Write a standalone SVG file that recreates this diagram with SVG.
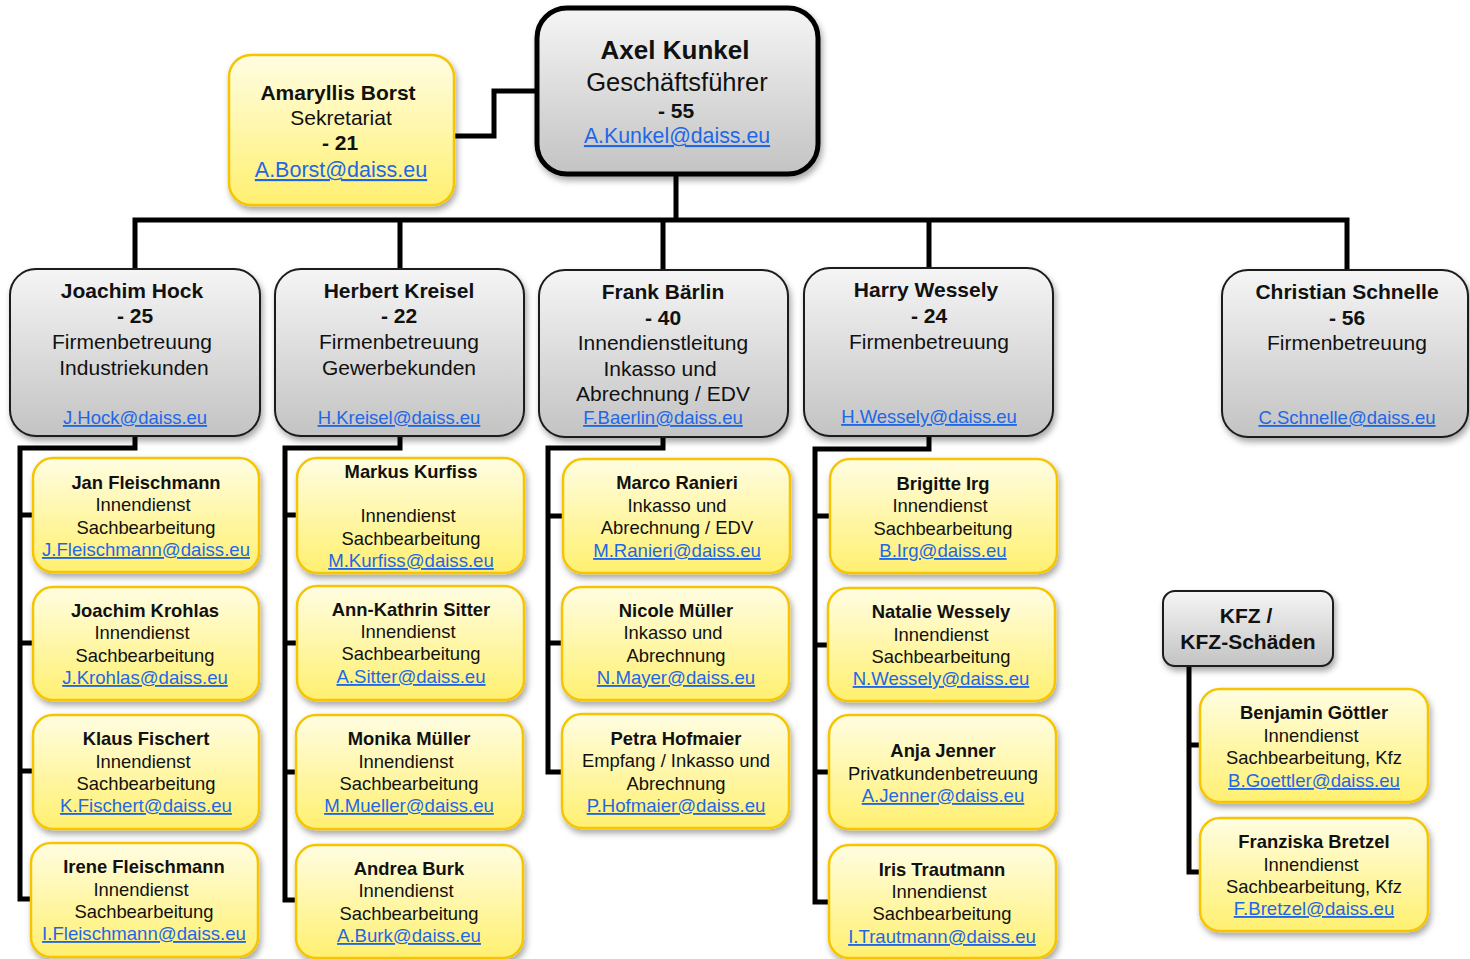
<svg xmlns="http://www.w3.org/2000/svg" width="1470" height="959" viewBox="0 0 1470 959">
<defs>
<linearGradient id="gGray" x1="0" y1="0" x2="0" y2="1">
<stop offset="0" stop-color="#f5f5f5"/>
<stop offset="1" stop-color="#c3c3c3"/>
</linearGradient>
<linearGradient id="gYel" x1="0" y1="0" x2="0" y2="1">
<stop offset="0" stop-color="#fffde2"/>
<stop offset="1" stop-color="#fff070"/>
</linearGradient>
<filter id="sh" x="-10%" y="-10%" width="125%" height="130%">
<feDropShadow dx="2" dy="4" stdDeviation="3" flood-color="#000" flood-opacity="0.35"/>
</filter>
</defs>
<style>
.gray{fill:url(#gGray);stroke:#1a1a1a;stroke-width:2;filter:url(#sh)}
.top{fill:url(#gGray);stroke:#000;stroke-width:5;filter:url(#sh)}
.yel{fill:url(#gYel);stroke:#f6c400;stroke-width:2.5;filter:url(#sh)}
text{font-family:"Liberation Sans",Arial,sans-serif;fill:#111;text-anchor:middle}
.b{font-weight:bold}
.l{fill:#1f67e6;text-decoration:underline}
.g text{font-size:21px}
.g text.l{font-size:18.5px}
.y text{font-size:18.4px}
.y text.l{font-size:18.6px}
.conn{fill:none;stroke:#000;stroke-width:5;stroke-linejoin:miter}
</style>
<rect width="1470" height="959" fill="#fff"/>

<g id="connectors">
<path class="conn" d="M454,136 H494 V91 H537"/>
<path class="conn" d="M676,174 V220 M135,270 V220 H1347 V270 M400,220 V270 M663,220 V270 M929,220 V270"/>
<path class="conn" d="M135,436 V448 H20 V899 H33 M20,515 H33 M20,643 H33 M20,771 H33"/>
<path class="conn" d="M400,436 V448 H285 V900 H297 M285,515 H297 M285,643 H297 M285,772 H297"/>
<path class="conn" d="M663,437 V448 H548 V772 H563 M548,516 H563 M548,643 H563"/>
<path class="conn" d="M929,436 V449 H815 V902 H829 M815,516 H829 M815,645 H829 M815,772 H829"/>
<path class="conn" d="M1189,666 V872 H1200 M1189,745 H1200"/>
</g>

<g id="n-axel">
<rect class="top" x="537" y="8" width="281" height="166" rx="30"/>
<text x="675" y="59" class="b" font-size="26">Axel Kunkel</text>
<text x="677" y="91" font-size="25.5">Geschäftsführer</text>
<text x="676" y="118" class="b" font-size="21">- 55</text>
<text x="677" y="143" class="l" font-size="21.3">A.Kunkel@daiss.eu</text>
</g>

<g id="n-amaryllis">
<rect class="yel" x="229" y="55" width="225" height="150" rx="22"/>
<text x="338" y="100" class="b" font-size="21">Amaryllis Borst</text>
<text x="341" y="125" font-size="21">Sekretariat</text>
<text x="340" y="150" class="b" font-size="21">- 21</text>
<text x="341" y="177" class="l" font-size="21.5">A.Borst@daiss.eu</text>
</g>

<g id="n-hock" class="g">
<rect class="gray" x="10" y="269" width="250" height="167" rx="26"/>
<text x="132" y="298" class="b">Joachim Hock</text>
<text x="135" y="323" class="b">- 25</text>
<text x="132" y="349">Firmenbetreuung</text>
<text x="134" y="375">Industriekunden</text>
<text x="135" y="424" class="l">J.Hock@daiss.eu</text>
</g>

<g id="n-kreisel" class="g">
<rect class="gray" x="275" y="269" width="249" height="167" rx="26"/>
<text x="399" y="298" class="b">Herbert Kreisel</text>
<text x="399" y="323" class="b">- 22</text>
<text x="399" y="349">Firmenbetreuung</text>
<text x="399" y="375">Gewerbekunden</text>
<text x="399" y="424" class="l">H.Kreisel@daiss.eu</text>
</g>

<g id="n-baerlin" class="g">
<rect class="gray" x="539" y="270" width="249" height="167" rx="26"/>
<text x="663" y="299" class="b">Frank Bärlin</text>
<text x="663" y="325" class="b">- 40</text>
<text x="663" y="350">Innendienstleitung</text>
<text x="660" y="376">Inkasso und</text>
<text x="663" y="401">Abrechnung / EDV</text>
<text x="663" y="424" class="l">F.Baerlin@daiss.eu</text>
</g>

<g id="n-wessely" class="g">
<rect class="gray" x="804" y="268" width="249" height="168" rx="26"/>
<text x="926" y="297" class="b">Harry Wessely</text>
<text x="929" y="323" class="b">- 24</text>
<text x="929" y="349">Firmenbetreuung</text>
<text x="929" y="423" class="l">H.Wessely@daiss.eu</text>
</g>

<g id="n-schnelle" class="g">
<rect class="gray" x="1222" y="270" width="246" height="167" rx="26"/>
<text x="1347" y="299" class="b">Christian Schnelle</text>
<text x="1347" y="325" class="b">- 56</text>
<text x="1347" y="350">Firmenbetreuung</text>
<text x="1347" y="424" class="l">C.Schnelle@daiss.eu</text>
</g>

<g id="n-kfz" class="g">
<rect class="gray" x="1163" y="591" width="170" height="75" rx="12"/>
<text x="1246" y="623" class="b">KFZ /</text>
<text x="1248" y="649" class="b">KFZ-Schäden</text>
</g>

<!-- column 1 -->
<g id="n-jfleischmann" class="y">
<rect class="yel" x="33" y="458" width="226" height="114" rx="20"/>
<text x="146" y="489" class="b">Jan Fleischmann</text>
<text x="143" y="511">Innendienst</text>
<text x="146" y="534">Sachbearbeitung</text>
<text x="146" y="556" class="l">J.Fleischmann@daiss.eu</text>
</g>
<g id="n-krohlas" class="y">
<rect class="yel" x="33" y="587" width="226" height="113" rx="20"/>
<text x="145" y="617" class="b">Joachim Krohlas</text>
<text x="142" y="639">Innendienst</text>
<text x="145" y="662">Sachbearbeitung</text>
<text x="145" y="684" class="l">J.Krohlas@daiss.eu</text>
</g>
<g id="n-fischert" class="y">
<rect class="yel" x="33" y="715" width="226" height="114" rx="20"/>
<text x="146" y="745" class="b">Klaus Fischert</text>
<text x="143" y="768">Innendienst</text>
<text x="146" y="790">Sachbearbeitung</text>
<text x="146" y="812" class="l">K.Fischert@daiss.eu</text>
</g>
<g id="n-ifleischmann" class="y">
<rect class="yel" x="31" y="843" width="227" height="114" rx="20"/>
<text x="144" y="873" class="b">Irene Fleischmann</text>
<text x="141" y="896">Innendienst</text>
<text x="144" y="918">Sachbearbeitung</text>
<text x="144" y="940" class="l">I.Fleischmann@daiss.eu</text>
</g>

<!-- column 2 -->
<g id="n-kurfiss" class="y">
<rect class="yel" x="297" y="458" width="227" height="115" rx="20"/>
<text x="411" y="478" class="b">Markus Kurfiss</text>
<text x="408" y="522">Innendienst</text>
<text x="411" y="545">Sachbearbeitung</text>
<text x="411" y="567" class="l">M.Kurfiss@daiss.eu</text>
</g>
<g id="n-sitter" class="y">
<rect class="yel" x="297" y="586" width="227" height="114" rx="20"/>
<text x="411" y="616" class="b">Ann-Kathrin Sitter</text>
<text x="408" y="638">Innendienst</text>
<text x="411" y="660">Sachbearbeitung</text>
<text x="411" y="683" class="l">A.Sitter@daiss.eu</text>
</g>
<g id="n-mmueller" class="y">
<rect class="yel" x="296" y="715" width="227" height="114" rx="20"/>
<text x="409" y="745" class="b">Monika Müller</text>
<text x="406" y="768">Innendienst</text>
<text x="409" y="790">Sachbearbeitung</text>
<text x="409" y="812" class="l">M.Mueller@daiss.eu</text>
</g>
<g id="n-burk" class="y">
<rect class="yel" x="296" y="845" width="227" height="113" rx="20"/>
<text x="409" y="875" class="b">Andrea Burk</text>
<text x="406" y="897">Innendienst</text>
<text x="409" y="920">Sachbearbeitung</text>
<text x="409" y="942" class="l">A.Burk@daiss.eu</text>
</g>

<!-- column 3 -->
<g id="n-ranieri" class="y">
<rect class="yel" x="563" y="459" width="227" height="114" rx="20"/>
<text x="677" y="489" class="b">Marco Ranieri</text>
<text x="677" y="512">Inkasso und</text>
<text x="677" y="534">Abrechnung / EDV</text>
<text x="677" y="557" class="l">M.Ranieri@daiss.eu</text>
</g>
<g id="n-nmueller" class="y">
<rect class="yel" x="562" y="587" width="227" height="113" rx="20"/>
<text x="676" y="617" class="b">Nicole Müller</text>
<text x="673" y="639">Inkasso und</text>
<text x="676" y="662">Abrechnung</text>
<text x="676" y="684" class="l">N.Mayer@daiss.eu</text>
</g>
<g id="n-hofmaier" class="y">
<rect class="yel" x="562" y="714" width="227" height="114" rx="20"/>
<text x="676" y="745" class="b">Petra Hofmaier</text>
<text x="676" y="767">Empfang / Inkasso und</text>
<text x="676" y="790">Abrechnung</text>
<text x="676" y="812" class="l">P.Hofmaier@daiss.eu</text>
</g>

<!-- column 4 -->
<g id="n-irg" class="y">
<rect class="yel" x="830" y="459" width="227" height="114" rx="20"/>
<text x="943" y="490" class="b">Brigitte Irg</text>
<text x="940" y="512">Innendienst</text>
<text x="943" y="535">Sachbearbeitung</text>
<text x="943" y="557" class="l">B.Irg@daiss.eu</text>
</g>
<g id="n-nwessely" class="y">
<rect class="yel" x="828" y="588" width="227" height="113" rx="20"/>
<text x="941" y="618" class="b">Natalie Wessely</text>
<text x="941" y="641">Innendienst</text>
<text x="941" y="663">Sachbearbeitung</text>
<text x="941" y="685" class="l">N.Wessely@daiss.eu</text>
</g>
<g id="n-jenner" class="y">
<rect class="yel" x="829" y="715" width="227" height="114" rx="20"/>
<text x="943" y="757" class="b">Anja Jenner</text>
<text x="943" y="780">Privatkundenbetreuung</text>
<text x="943" y="802" class="l">A.Jenner@daiss.eu</text>
</g>
<g id="n-trautmann" class="y">
<rect class="yel" x="829" y="845" width="227" height="113" rx="20"/>
<text x="942" y="876" class="b">Iris Trautmann</text>
<text x="939" y="898">Innendienst</text>
<text x="942" y="920">Sachbearbeitung</text>
<text x="942" y="943" class="l">I.Trautmann@daiss.eu</text>
</g>

<!-- KFZ column -->
<g id="n-goettler" class="y">
<rect class="yel" x="1200" y="689" width="228" height="113" rx="20"/>
<text x="1314" y="719" class="b">Benjamin Göttler</text>
<text x="1311" y="742">Innendienst</text>
<text x="1314" y="764">Sachbearbeitung, Kfz</text>
<text x="1314" y="787" class="l">B.Goettler@daiss.eu</text>
</g>
<g id="n-bretzel" class="y">
<rect class="yel" x="1200" y="818" width="228" height="113" rx="20"/>
<text x="1314" y="848" class="b">Franziska Bretzel</text>
<text x="1311" y="871">Innendienst</text>
<text x="1314" y="893">Sachbearbeitung, Kfz</text>
<text x="1314" y="915" class="l">F.Bretzel@daiss.eu</text>
</g>
</svg>
